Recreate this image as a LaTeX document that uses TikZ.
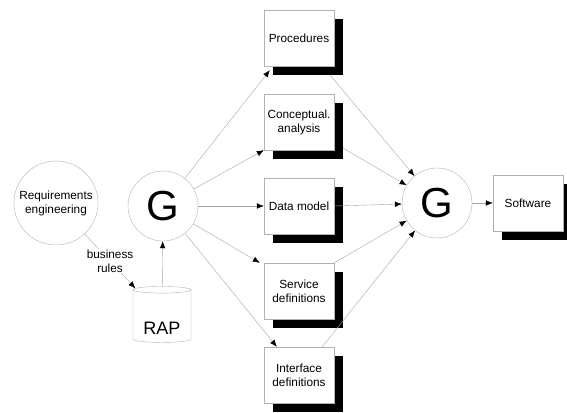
\documentclass[tikz,border=0pt]{standalone}
\usepackage{fontspec}
\setmainfont{Liberation Sans}
\usetikzlibrary{arrows.meta,shapes.geometric,shadows}

\tikzset{
    stage/.style={draw=gray!60, fill=white, minimum width=70pt, minimum height=56pt, align=center,
        font=\fontsize{11.8}{14}\selectfont,
        drop shadow={shadow xshift=9pt, shadow yshift=-9pt, fill=black, opacity=1}},
    gen/.style={circle, draw=gray!60, fill=white, minimum size=70pt, inner sep=0pt, font=\fontsize{42}{46}\selectfont},
    flow/.style={draw=gray!70, -{Latex[black,length=7pt,width=5.5pt]}},
}

\begin{document}
\begin{tikzpicture}[x=1pt,y=-1pt]

    \useasboundingbox (0,0) rectangle (567,412);

    \node[circle, draw=gray!60, minimum size=84pt, inner sep=0pt, align=center, font=\fontsize{11.8}{14}\selectfont] (req) at (56,203) {Requirements\\engineering};
    \node[gen] (gl) at (163,206) {G};
    \node[cylinder, shape border rotate=90, aspect=1, draw=gray!60, minimum width=58pt, minimum height=56pt,
        label={[font=\fontsize{18}{20}\selectfont, yshift=-11pt]center:RAP}] (rap) at (162,317) {};

    \node[stage] (proc) at (299,38) {Procedures};
    \node[stage] (concept) at (299,122) {Conceptual.\\analysis};
    \node[stage] (data) at (299,206) {Data model};
    \node[stage] (serv) at (299,291) {Service\\definitions};
    \node[stage] (intf) at (299,375) {Interface\\definitions};

    \node[gen] (gr) at (437,203) {G};
    \node[stage] (soft) at (528,203) {Software};

    \draw[flow] (req) -- node[fill=white, align=center, inner sep=1pt, font=\fontsize{11.8}{14}\selectfont]{business\\rules} (rap);
    \draw[flow] (rap) -- (gl);

    \draw[flow] (gl) -- ([xshift=6pt,yshift=-4pt]proc.south west);
    \draw[flow] (gl) -- (concept.south west);
    \draw[flow] (gl) -- (data.west);
    \draw[flow] (gl) -- ([xshift=-4pt]serv.north west);
    \draw[flow] (gl) -- ([xshift=13pt]intf.north west);

    \draw[flow] ([xshift=-4pt,yshift=-9pt]proc.south east) -- (gr);
    \draw[flow] ([xshift=9pt,yshift=2pt]concept.south east) -- (gr);
    \draw[flow] (data.east) -- (gr);
    \draw[flow] (serv.north east) -- (gr);
    \draw[flow] ([xshift=-12pt]intf.north east) -- (gr);

    \draw[flow] (gr) -- (soft);

\end{tikzpicture}
\end{document}
